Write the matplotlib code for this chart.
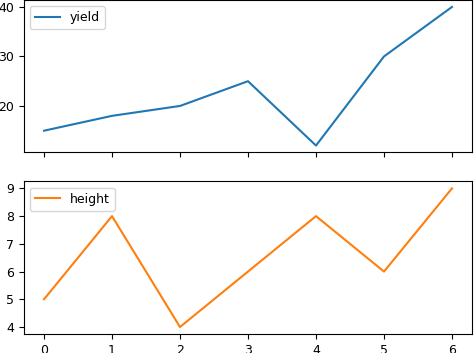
import matplotlib
matplotlib.use("Agg")
import matplotlib.pyplot as plt

x = [0, 1, 2, 3, 4, 5, 6]
yield_vals = [15, 18, 20, 25, 12, 30, 40]
height_vals = [5, 8, 4, 6, 8, 6, 9]
height_ticks = [4, 5, 6, 7, 8, 9]

plt.rcParams['font.size'] = 9

fig, (ax1, ax2) = plt.subplots(2, 1, sharex=True, figsize=(4.74, 3.53), dpi=100)
fig.subplots_adjust(left=0.0498, right=0.9966, bottom=0.054, top=1.0, hspace=0.19)

ax1.plot(x, yield_vals, color='#1f77b4', label='yield')
ax1.legend(loc='upper left')

ax2.plot(x, height_vals, color='#ff7f0e', label='height')
ax2.set_yticks(height_ticks)
ax2.legend(loc='upper left')

fig.savefig('out.png', dpi=100)
